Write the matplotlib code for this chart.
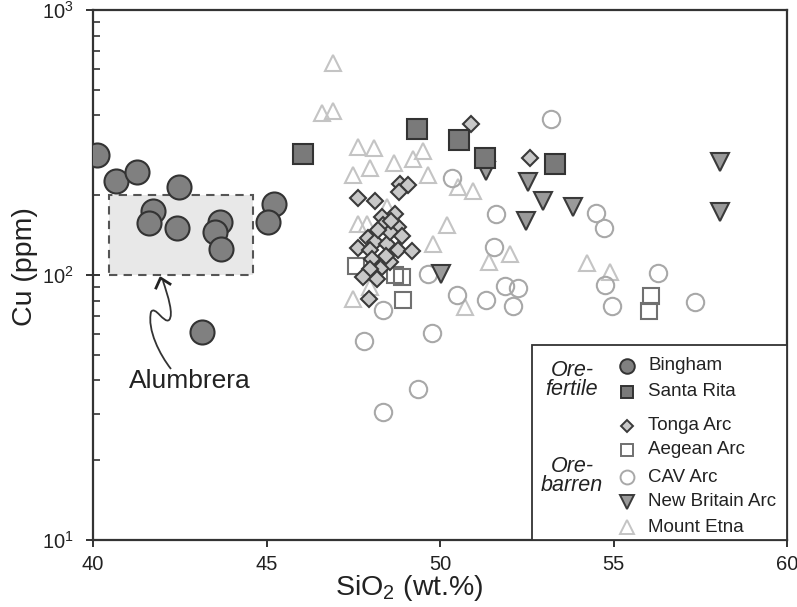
import matplotlib
matplotlib.use('Agg')
import matplotlib.pyplot as plt
from matplotlib.patches import Rectangle, PathPatch
from matplotlib.path import Path
from matplotlib.lines import Line2D

plt.rcParams['font.family'] = ['Liberation Sans', 'DejaVu Sans']
plt.rcParams['mathtext.fontset'] = 'custom'
plt.rcParams['mathtext.rm'] = 'Liberation Sans'
plt.rcParams['mathtext.it'] = 'Liberation Sans:italic'

# ---------------- data ----------------
bingham_sio2 = [40.12, 40.66, 41.28, 42.47, 41.74, 41.62, 42.41, 43.66, 43.52, 43.68, 45.22, 45.05, 43.13]
bingham_cu = [283, 226, 244, 215, 174, 157, 151, 158, 145, 125, 186, 158, 61]

santa_rita_sio2 = [46.05, 49.35, 50.55, 51.30, 53.30]
santa_rita_cu = [287, 355, 322, 277, 262]

tonga_sio2 = [50.88, 52.59, 48.85, 49.09, 48.82, 47.65, 48.13, 48.70, 48.32, 48.37, 48.80,
              47.92, 48.13, 48.46, 47.65, 48.80, 49.18, 47.98, 48.03, 48.32, 48.56, 47.98,
              47.79, 48.18, 47.96, 48.55, 48.60, 48.20, 48.90, 48.45]
tonga_cu = [370, 277, 221, 218, 206, 196, 190, 170, 165, 154, 152,
            138, 133, 131, 126, 124, 123, 124, 115, 107, 112, 105,
            98, 96.8, 81.2, 145, 160, 148, 140, 118]

aegean_sio2 = [47.58, 48.70, 48.90, 48.93, 56.07, 56.03]
aegean_cu = [108, 99.6, 98, 80.2, 83.6, 73.4]

cav_sio2 = [53.21, 50.34, 51.61, 54.51, 54.73, 51.56, 56.29, 50.48, 51.33, 51.87, 52.25,
            52.09, 54.75, 54.95, 57.35, 48.37, 47.82, 49.76, 49.36, 48.37, 49.66]
cav_cu = [387, 233, 170, 171, 151, 127, 102, 84.4, 80.6, 90.5, 89.5,
          76.7, 92, 76.7, 78.9, 73.9, 56.2, 60.3, 37.1, 30.3, 100.5]

new_britain_sio2 = [51.32, 52.55, 52.97, 53.84, 52.48, 58.07, 58.07, 50.04]
new_britain_cu = [246, 224, 191, 180, 160, 267, 173, 101]

etna_sio2 = [46.92, 46.59, 46.93, 47.64, 48.10, 49.52, 49.23, 48.66, 47.98, 47.50, 49.66,
             50.52, 50.95, 47.65, 50.19, 48.48, 52.02, 51.42, 54.24, 54.90, 50.72, 49.81,
             47.98, 47.50, 47.90]
etna_cu = [629, 407, 415, 304, 302, 294, 273, 265, 253, 238, 238,
           215, 207, 156, 154, 180, 120, 112, 111, 102.6, 76, 131,
           89.9, 81.3, 156]

x_ticks = [40, 45, 50, 55, 60]
alumbrera_box_sio2 = [40.45, 44.6]
alumbrera_box_cu = [100, 200]

legend_labels = ['Bingham', 'Santa Rita', 'Tonga Arc', 'Aegean Arc', 'CAV Arc',
                 'New Britain Arc', 'Mount Etna']

# ---------------- figure ----------------
W, H = 797, 607
fig = plt.figure(figsize=(W / 100, H / 100), dpi=100)
L, R, T, B = 93, 787, 10, 540
ax = fig.add_axes([L / W, 1 - B / H, (R - L) / W, (B - T) / H])
ax.set_yscale('log')
ax.set_xlim(40, 60)
ax.set_ylim(10, 1000)

def P(xp, yp):
    """pixel position -> axes fraction"""
    return ((xp - L) / (R - L), (B - yp) / (B - T))

# Alumbrera box
ax.add_patch(Rectangle((alumbrera_box_sio2[0], alumbrera_box_cu[0]),
                       alumbrera_box_sio2[1] - alumbrera_box_sio2[0],
                       alumbrera_box_cu[1] - alumbrera_box_cu[0],
                       facecolor='#e8e8e8', edgecolor='#555555', lw=1.5,
                       linestyle=(0, (4, 3)), zorder=1))

# series
ax.plot(etna_sio2, etna_cu, linestyle='none', marker='^', ms=12, mfc='none',
        mec='#c4c4c4', mew=1.5, zorder=2)
ax.plot(cav_sio2, cav_cu, linestyle='none', marker='o', ms=12.5, mfc='none',
        mec='#a8a8a8', mew=1.5, zorder=2)
ax.plot(aegean_sio2, aegean_cu, linestyle='none', marker='s', ms=11, mfc='none',
        mec='#707070', mew=1.5, zorder=3)
ax.plot(new_britain_sio2, new_britain_cu, linestyle='none', marker='v', ms=12.5,
        mfc='#9a9a9a', mec='#3a3a3a', mew=1.5, zorder=4)
ax.plot(tonga_sio2, tonga_cu, linestyle='none', marker='D', ms=8.2,
        mfc='#c8c8c8', mec='#3a3a3a', mew=1.5, zorder=4)
ax.plot(santa_rita_sio2, santa_rita_cu, linestyle='none', marker='s', ms=15,
        mfc='#7a7a7a', mec='#333333', mew=1.5, zorder=5)
ax.plot(bingham_sio2, bingham_cu, linestyle='none', marker='o', ms=17.3,
        mfc='#808080', mec='#333333', mew=1.5, zorder=6)

# squiggly arrow + label
verts = [P(163, 281), P(168, 296), P(174, 315), P(169, 320),
         P(164, 324), P(155, 305), P(151, 312),
         P(147, 330), P(160, 355), P(171, 369)]
codes = [Path.MOVETO] + [Path.CURVE4] * 9
ax.add_patch(PathPatch(Path(verts, codes), transform=ax.transAxes,
                       facecolor='none', edgecolor='#333333', lw=1.3, zorder=7))
head = [P(156, 288), P(160.5, 278), P(170, 284)]
ax.add_line(Line2D([h[0] for h in head], [h[1] for h in head],
                   transform=ax.transAxes, color='#222222', lw=2, zorder=7))
ax.text(*P(190, 381), 'Alumbrera', transform=ax.transAxes, ha='center',
        va='center', fontsize=19, color='#222222', zorder=7)

# axes styling
for s in ax.spines.values():
    s.set_linewidth(1.6)
    s.set_color('#333333')
ax.set_xticks(x_ticks)
ax.set_xticklabels([str(t) for t in x_ticks])
ax.tick_params(axis='x', which='major', direction='out', length=5, width=1.4,
               labelsize=14.5, pad=6, colors='#333333', labelcolor='#222222')
ax.tick_params(axis='x', which='minor', bottom=False)
ax.tick_params(axis='y', which='major', direction='inout', length=10, width=1.4,
               labelsize=14.5, pad=9, colors='#333333', labelcolor='#222222')
ax.tick_params(axis='y', which='minor', direction='in', length=5, width=1.2,
               colors='#333333')
ax.set_xlabel('SiO$_2$ (wt.%)', fontsize=20.5, color='#222222')
ax.xaxis.set_label_coords(0.455, -0.062)
ax.set_ylabel('Cu (ppm)', fontsize=20.5, color='#222222')
ax.yaxis.set_label_coords(-0.079, 0.515)

# manual legend
lx0, ly0 = P(532, 540)
lx1, ly1 = P(787, 345)
ax.add_patch(Rectangle((lx0, ly0), lx1 - lx0, ly1 - ly0, transform=ax.transAxes,
                       facecolor='white', edgecolor='#333333', lw=1.3, zorder=8))
leg_y = [366, 392, 426, 450, 477, 502, 527]
leg_style = [
    dict(marker='o', ms=10.5, mfc='#808080', mec='#333333'),
    dict(marker='s', ms=9, mfc='#7a7a7a', mec='#333333'),
    dict(marker='D', ms=6.5, mfc='#c8c8c8', mec='#3a3a3a'),
    dict(marker='s', ms=9, mfc='none', mec='#707070'),
    dict(marker='o', ms=10, mfc='none', mec='#a8a8a8'),
    dict(marker='v', ms=10, mfc='#9a9a9a', mec='#3a3a3a'),
    dict(marker='^', ms=10, mfc='none', mec='#c4c4c4'),
]
for lab, yy, st in zip(legend_labels, leg_y, leg_style):
    mx, my = P(627, yy)
    ax.add_line(Line2D([mx], [my], transform=ax.transAxes, linestyle='none',
                       mew=1.4, zorder=9, **st))
    tx, ty = P(648, yy)
    ax.text(tx, ty, lab, transform=ax.transAxes, ha='left', va='center',
            fontsize=13.5, color='#222222', zorder=9)
ax.text(*P(572, 380), 'Ore-\nfertile', transform=ax.transAxes, ha='center',
        va='center', fontsize=15.5, style='italic', linespacing=0.9,
        color='#222222', zorder=9)
ax.text(*P(572, 476), 'Ore-\nbarren', transform=ax.transAxes, ha='center',
        va='center', fontsize=15.5, style='italic', linespacing=0.9,
        color='#222222', zorder=9)

fig.savefig('out.png', dpi=100)
